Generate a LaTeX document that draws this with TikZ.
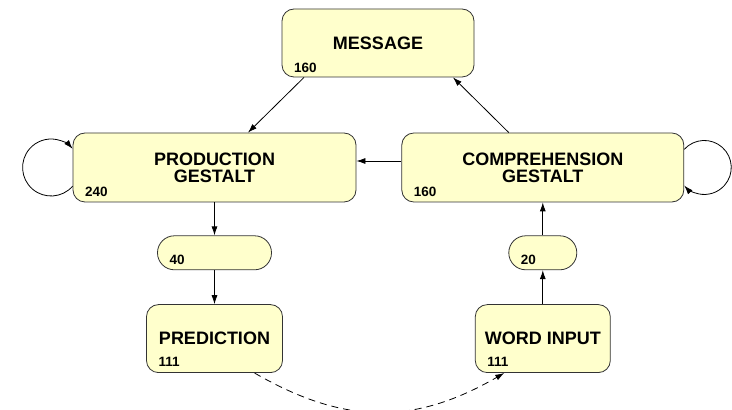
\documentclass[tikz,border=0pt]{standalone}
\usepackage{fontspec}
\setmainfont{Liberation Sans}
\usetikzlibrary{positioning,arrows.meta}
\definecolor{boxfill}{RGB}{255,255,204}

\begin{document}
\begin{tikzpicture}[x=1pt,y=1pt,>={Latex[length=9pt,width=6pt]},line width=0.8pt]
	\tikzstyle{unit}=[draw=black!80,fill=boxfill,rounded corners=12pt,inner sep=0pt,align=center,font=\bfseries\fontsize{18}{17}\selectfont]
	\tikzstyle{pill}=[unit,rounded corners=16.9pt,minimum height=34pt]
	\tikzstyle{num}=[anchor=base west,inner sep=0pt,font=\bfseries\fontsize{13.5}{13.5}\selectfont]
	\useasboundingbox (0,0) rectangle (732,410);
		\node[unit,minimum width=192pt,minimum height=68pt] (msg) at (378,367) {MESSAGE};
		\node[unit,minimum width=283pt,minimum height=69pt] (prod) at (214.5,242.5) {PRODUCTION\\GESTALT};
		\node[unit,minimum width=282pt,minimum height=69pt] (comp) [right=45pt of prod] {COMPREHENSION\\GESTALT};
		\node[pill,minimum width=114pt] (n40) [below=33pt of prod] {};
		\node[pill,minimum width=68pt] (n20) [below=33pt of comp] {};
		\node[unit,minimum width=136pt,minimum height=68pt] (pred) [below=34pt of n40] {PREDICTION};
		\node[unit,minimum width=135pt,minimum height=68pt] (word) [below=34pt of n20] {WORD INPUT};
		% sizes
		\node[num] (msgnum) at ([shift={(12pt,5pt)}]msg.south west) {160};
		\node[num] (prodnum) at ([shift={(12pt,6pt)}]prod.south west) {240};
		\node[num] (compnum) at ([shift={(12pt,6pt)}]comp.south west) {160};
		\node[num] (n40num) at ([shift={(12pt,6pt)}]n40.south west) {40};
		\node[num] (n20num) at ([shift={(12pt,6pt)}]n20.south west) {20};
		\node[num] (prednum) at ([shift={(12pt,6pt)}]pred.south west) {111};
		\node[num] (wordnum) at ([shift={(12pt,6pt)}]word.south west) {111};
			\draw[->] ([xshift=-74pt]msg.south) -- ([xshift=33.5pt]prod.north);
			\draw[->] ([xshift=-34pt]comp.north) -- ([xshift=75pt]msg.south);
			\draw[->] ([yshift=6.5pt]comp.west) -- ([yshift=6.5pt]prod.east);
			\draw[->] (prod) -- (n40);
			\draw[->] (n40) -- (pred);
			\draw[->] (word) -- (n20);
			\draw[->] (n20) -- (comp);
			\draw[->] ([yshift=-18.7pt]prod.west) arc[start angle=-41,end angle=-319,radius=28.5pt];
			\draw[->] ([yshift=18.1pt]comp.east) arc[start angle=138,end angle=-138,radius=27pt];
			\draw[->,dashed,dash pattern=on 7pt off 5pt] ([xshift=40pt]pred.south) to[out=-30,in=-150,looseness=1.07] ([xshift=-38.5pt]word.south);
\end{tikzpicture}
\end{document}
